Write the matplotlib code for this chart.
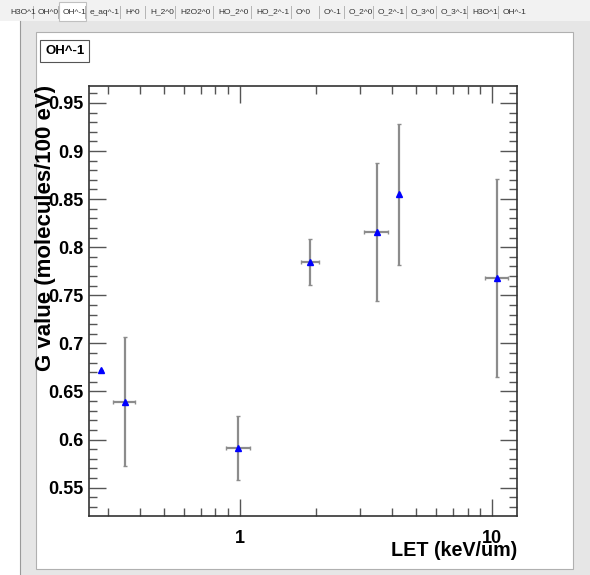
"""Recreate ROOT browser canvas: G value of OH^-1 versus LET."""

import matplotlib

matplotlib.use("Agg")
import matplotlib.pyplot as plt
from matplotlib.patches import Rectangle
from matplotlib.ticker import FixedLocator, NullFormatter

plt.rcParams["font.family"] = ["Liberation Sans", "DejaVu Sans"]

# data
let_kev_um = [0.28, 0.35, 0.985, 1.90, 3.49, 4.28, 10.45]
let_err_lo = [0.0, 0.036, 0.108, 0.16, 0.39, 0.05, 1.07]
let_err_hi = [0.0, 0.033, 0.114, 0.16, 0.39, 0.05, 1.08]
g_value = [0.6725, 0.6393, 0.5910, 0.7847, 0.8157, 0.8550, 0.7680]
g_err = [0.0, 0.0673, 0.0331, 0.0239, 0.0720, 0.0733, 0.1030]

tab_labels = ["H3O^1", "OH^0", "OH^-1", "e_aq^-1", "H^0", "H_2^0", "H2O2^0",
              "HO_2^0", "HO_2^-1", "O^0", "O^-1", "O_2^0", "O_2^-1", "O_3^0",
              "O_3^-1", "H3O^1", "OH^-1"]
tab_x = [10, 38, 63, 90, 125, 150, 180, 218, 256, 296, 324, 349, 378, 411,
         441, 472, 503]
active_tab = 2

W, H = 590, 575
fig = plt.figure(figsize=(W / 100, H / 100), dpi=100)
fig.patch.set_facecolor("#e6e6e6")


def px(x, y, w, h):
    # pixel box (top-left origin) -> figure fraction rectangle
    return (x / W, 1 - (y + h) / H), w / W, h / H


def add_rect(x, y, w, h, fc, ec="none", lw=0.8):
    xy, ww, hh = px(x, y, w, h)
    fig.patches.append(Rectangle(xy, ww, hh, transform=fig.transFigure,
                                 facecolor=fc, edgecolor=ec, linewidth=lw,
                                 zorder=-5))


# window chrome
add_rect(0, 0, W, 21, "#f2f2f2")
add_rect(0, 21, 20, H - 21, "white")
fig.add_artist(plt.Line2D([20 / W, 20 / W], [0, 1 - 21 / H],
                          transform=fig.transFigure, color="#9a9a9a", lw=0.8))
add_rect(36, 32, 537, 537, "white", ec="#b0b0b0")

for i, (lab, x) in enumerate(zip(tab_labels, tab_x)):
    if i == active_tab:
        add_rect(x - 4, 2, 27, 19, "white", ec="#c0c0c0")
    fig.text(x / W, 1 - 12 / H, lab, fontsize=6.0, va="center", ha="left",
             color="#333333")
    if i > 0:
        fig.add_artist(plt.Line2D([(x - 5) / W] * 2, [1 - 6 / H, 1 - 18 / H],
                                  transform=fig.transFigure, color="#b5b5b5",
                                  lw=0.7))

# title box
fig.text(45 / W, 1 - 51 / H, "OH^-1", fontsize=9.5, fontweight="bold",
         va="center", ha="left",
         bbox=dict(boxstyle="square,pad=0.35", fc="white", ec="#555555",
                   lw=0.8))

ax = fig.add_axes([89 / W, 1 - 516 / H, 428 / W, 430 / H])
ax.set_zorder(5)
ax.patch.set_alpha(0)
ax.set_xscale("log")
ax.set_xlim(0.252, 12.57)
ax.set_ylim(0.5205, 0.9676)

ax.errorbar(let_kev_um, g_value, yerr=g_err, xerr=[let_err_lo, let_err_hi],
            fmt="^", color="blue", markersize=4.3, ecolor="#8c8c8c",
            elinewidth=1.6, capsize=1.5, capthick=1.0, zorder=3)

ax.xaxis.set_major_locator(FixedLocator([1, 10]))
ax.xaxis.set_minor_locator(FixedLocator(
    [0.3, 0.4, 0.5, 0.6, 0.7, 0.8, 0.9, 2, 3, 4, 5, 6, 7, 8, 9]))
ax.xaxis.set_minor_formatter(NullFormatter())
ax.set_xticklabels(["1", "10"])

y_major = [0.55, 0.6, 0.65, 0.7, 0.75, 0.8, 0.85, 0.9, 0.95]
ax.yaxis.set_major_locator(FixedLocator(y_major))
ax.yaxis.set_minor_locator(FixedLocator(
    [0.53 + 0.01 * i for i in range(44)]))
ax.set_yticklabels(["0.55", "0.6", "0.65", "0.7", "0.75", "0.8", "0.85",
                    "0.9", "0.95"])

ax.tick_params(which="both", direction="in", top=True, right=True,
               color="#555555", width=1.0)
ax.tick_params(which="major", length=12)
ax.tick_params(which="minor", length=6)
ax.tick_params(axis="both", which="major", labelsize=13, pad=4)
for lab in ax.get_xticklabels() + ax.get_yticklabels():
    lab.set_fontweight("bold")
ax.tick_params(axis="x", which="major", pad=10)
for s in ax.spines.values():
    s.set_color("#333333")
    s.set_linewidth(1.2)

fig.text(517 / W, 1 - 551 / H, "LET (keV/um)", fontsize=14.2,
         fontweight="bold", ha="right", va="center", zorder=6)
fig.text(46 / W, 1 - 228 / H, "G value (molecules/100 eV)", fontsize=16,
         fontweight="bold", ha="center", va="center", rotation=90, zorder=6)

fig.savefig("out.png", dpi=100, facecolor=fig.get_facecolor())
